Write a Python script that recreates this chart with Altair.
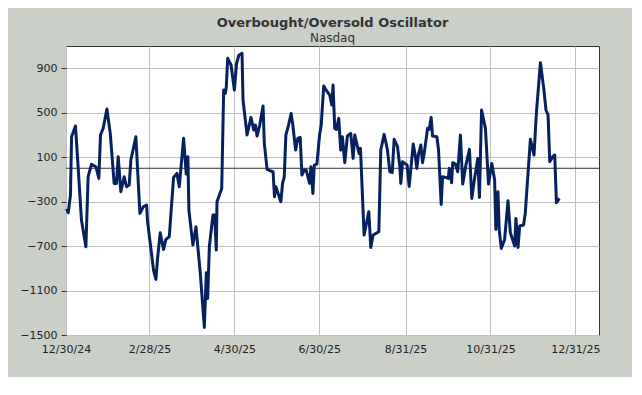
import altair as alt
import pandas as pd

# Days since 12/30/24 and oscillator values
days = [0.4, 1.6, 3.2, 4.0, 6.8, 8.7, 11.1, 14.3, 15.9, 18.3, 21.5, 23.6, 24.8, 26.7, 29.4, 31.8,
        34.6, 36.3, 37.5, 39.4, 41.8, 43.5, 45.4, 46.6, 50.2, 53.1, 55.5, 57.9, 58.6, 62.9,
        64.6, 65.8, 67.7, 70.1, 71.8, 74.2, 77.3, 79.7, 81.4, 84.5, 86.4, 87.6, 88.3, 91.2,
        93.4, 96.5, 99.4, 100.8, 101.8, 103.0, 105.6, 106.8, 108.0, 108.5, 111.9, 113.3, 114.5,
        115.2, 116.2, 118.6, 121.0, 122.5, 124.3, 126.5, 127.2, 130.1, 132.9, 134.9, 136.1,
        137.3, 139.2, 141.6, 142.5, 144.5, 147.3, 148.8, 149.8, 150.8, 154.4, 155.6, 156.8,
        158.0, 159.9, 161.8, 163.0, 165.0, 166.6, 168.3, 169.5, 171.2, 172.6, 175.0, 176.0,
        177.4, 178.4, 180.3, 182.2, 183.4, 185.2, 187.2, 189.5, 191.0, 191.9, 193.1, 194.3,
        196.0, 197.4, 198.6, 200.3, 202.2, 204.6, 206.3, 207.5, 209.2, 210.6, 211.6, 214.2,
        217.6, 219.0, 220.7, 224.8, 226.2, 228.6, 231.0, 232.7, 234.4, 235.8, 238.2, 239.9,
        240.6, 241.8, 243.5, 245.1, 246.6, 249.5, 250.9, 252.1, 253.3, 255.0, 256.2, 257.4,
        259.8, 261.0, 262.4, 263.4, 266.5, 267.7, 269.6, 270.6, 273.0, 274.7, 275.4, 277.1,
        277.9, 279.8, 281.5, 283.4, 285.1, 287.5, 289.9, 291.6, 293.5, 295.9, 297.1, 298.6,
        301.4, 303.6, 306.0, 308.0, 308.9, 310.4, 311.3, 312.8, 315.2, 317.6, 319.3, 322.4,
        323.3, 324.8, 326.0, 328.8, 330.0, 333.7, 336.3, 338.0, 340.9, 343.3, 344.9, 346.4,
        347.6, 349.7, 351.2, 352.4, 354.5]
values = [-361, -400, -241, 284, 380, 14, -466, -706, -76, 35, 14, -91, 299, 359, 533, 314,
          -136, -136, 104, -211, -76, -166, -151, 74, 284, -406, -346, -330, -480, -916,
          -1000, -811, -580, -730, -640, -616, -82, -46, -166, 269, -52, 104, -376, -691,
          -526, -946, -1432, -940, -1171, -706, -421, -421, -736, -301, -181, 704, 674,
          734, 989, 929, 704, 940, 1019, 1034, 614, 299, 458, 344, 389,
          290, 389, 560, 224, -10, -25, -31, -256, -166, -301, -136, -82,
          299, 389, 494, 389, 164, 269, 278, -61, -16, -16, -136, 14,
          -226, 29, 38, 299, 389, 740, 698, 659, 569, 749, 359, 350,
          449, 164, 284, 50, 290, 314, 89, 299, 209, 134, 179, -601,
          -391, -712, -601, -571, 164, 305, 164, -31, -40, 260, 194, 14,
          -136, 59, 44, 29, -163, 218, 119, -1, 128, 209, 50, 134,
          359, 350, 458, 290, 284, 164, -325, -76, -82, -91, -1, -130,
          50, 38, -31, 299, -142, 38, 170, -271, -100, 89, -262, 524,
          359, -142, 44, -106, -550, -211, -556, -721, -640, -292, -580, -700,
          -451, -712, -520, -511, -406, 260, 119, 494, 950, 719, 524, 479,
          59, 104, 119, -310, -271]

y_ticks = [-1500, -1100, -700, -300, 100, 500, 900]
x_ticks = [(2024, 12, 30), (2025, 2, 28), (2025, 4, 30), (2025, 6, 30),
           (2025, 8, 31), (2025, 10, 31), (2025, 12, 31)]

start = pd.Timestamp("2024-12-30")
df = pd.DataFrame({
    "date": [start + pd.to_timedelta(d, unit="D") for d in days],
    "value": values,
})

FONT = "DejaVu Sans"

x_enc = alt.X(
    "date:T",
    scale=alt.Scale(domain=[alt.DateTime(year=2024, month=12, date=30),
                            alt.DateTime(year=2026, month=1, date=17)]),
    axis=alt.Axis(values=[alt.DateTime(year=y, month=m, date=d) for y, m, d in x_ticks],
                  format="%-m/%-d/%y", title=None, grid=True, gridColor="#c0c0c0",
                  ticks=False, domain=False, labelPadding=8, labelFont=FONT,
                  labelFontSize=11, labelColor="#222222", labelAngle=0,
                  labelFlush=False, labelOverlap=False, labelBound=False),
)
y_enc = alt.Y(
    "value:Q",
    scale=alt.Scale(domain=[-1500, 1100], nice=False, zero=False),
    axis=alt.Axis(values=y_ticks, format="d", title=None, grid=True, gridColor="#c0c0c0",
                  domain=False, ticks=True, tickSize=5, tickColor="#333333",
                  labelPadding=4, labelFont=FONT, labelFontSize=11, labelColor="#222222",
                  labelFlush=False, labelOverlap=False),
)

line = alt.Chart(df).mark_line(color="#06215e", strokeWidth=3, strokeJoin="round").encode(
    x=x_enc, y=y_enc
)
zero = alt.Chart(pd.DataFrame({"v": [0]})).mark_rule(color="#333333", strokeWidth=1).encode(
    y=alt.Y("v:Q")
)

chart = alt.layer(zero, line).properties(
    width=533,
    height=289,
    padding={"left": 58, "top": 38, "right": 33, "bottom": 42},
    autosize=alt.AutoSizeParams(type="none"),
    background="#cacfc8",
    title=alt.TitleParams(
        text="Overbought/Oversold Oscillator",
        subtitle="Nasdaq",
        font=FONT, fontSize=13, fontWeight="bold", color="#333333",
        subtitleFont=FONT, subtitleFontSize=12, subtitleColor="#333333",
        anchor="middle", offset=2, subtitlePadding=3,
    ),
).configure_view(
    fill="white", stroke="#333333", strokeWidth=1
)

chart.save("out.html", embed_options={"renderer": "svg", "actions": False})
